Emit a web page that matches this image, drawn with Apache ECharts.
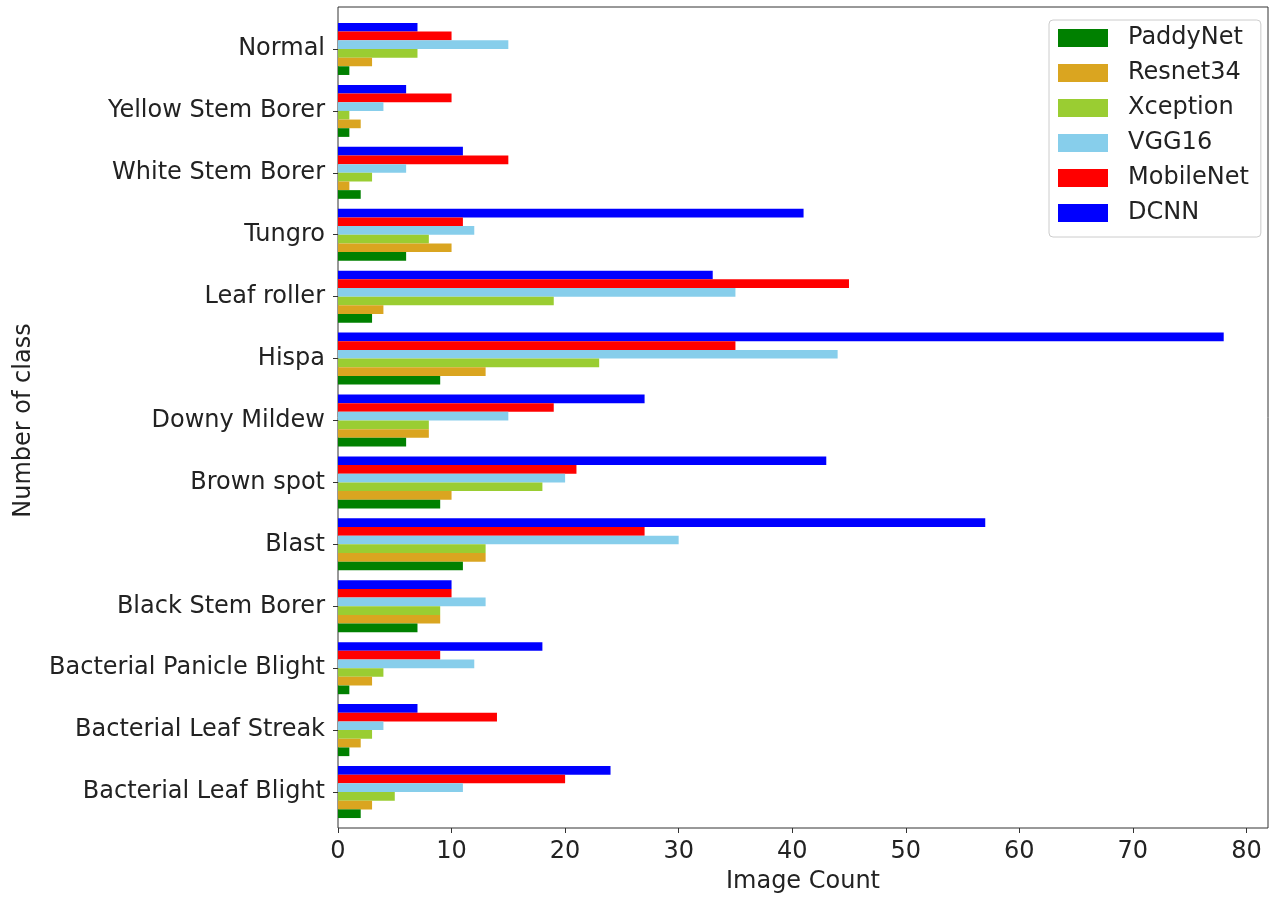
<!DOCTYPE html>
<html>
<head>
<meta charset="utf-8">
<script src="https://cdn.jsdelivr.net/npm/echarts@6/dist/echarts.min.js"></script>
<style>
  html, body { margin: 0; padding: 0; background: #fff; }
  #box1 { width: 1272px; height: 899px; }
</style>
</head>
<body>
<div id="box1"></div>
<script>
var chart = echarts.init(document.getElementById('box1'));

// categories, bottom to top
var classes = ['Bacterial Leaf Blight', 'Bacterial Leaf Streak', 'Bacterial Panicle Blight', 'Black Stem Borer',
  'Blast', 'Brown spot', 'Downy Mildew', 'Hispa', 'Leaf roller', 'Tungro',
  'White Stem Borer', 'Yellow Stem Borer', 'Normal'];

var models = ['PaddyNet', 'Resnet34', 'Xception', 'VGG16', 'MobileNet', 'DCNN'];
var colors = ['#008000', '#DAA520', '#9ACD32', '#87CEEB', '#FF0000', '#0000FF'];

var paddyNet  = [2, 1, 1, 7, 11, 9, 6, 9, 3, 6, 2, 1, 1];
var resnet34  = [3, 2, 3, 9, 13, 10, 8, 13, 4, 10, 1, 2, 3];
var xception  = [5, 3, 4, 9, 13, 18, 8, 23, 19, 8, 3, 1, 7];
var vgg16     = [11, 4, 12, 13, 30, 20, 15, 44, 35, 12, 6, 4, 15];
var mobileNet = [20, 14, 9, 10, 27, 21, 19, 35, 45, 11, 15, 10, 10];
var dcnn      = [24, 7, 18, 10, 57, 43, 27, 78, 33, 41, 11, 6, 7];

var xTicks = [0, 10, 20, 30, 40, 50, 60, 70, 80];

var allData = [paddyNet, resnet34, xception, vgg16, mobileNet, dcnn];
var font = 'DejaVu Sans';
var txt = '#222';

// echarts puts the first series on top in a horizontal bar group,
// so add them in reverse to keep PaddyNet at the bottom
var series = [];
for (var i = models.length - 1; i >= 0; i--) {
  series.push({
    name: models[i],
    type: 'bar',
    xAxisIndex: 0,
    yAxisIndex: 0,
    data: allData[i],
    barGap: '0%',
    barCategoryGap: '16%',
    itemStyle: { color: colors[i] }
  });
}

var option = {
  animation: false,
  textStyle: { fontFamily: font },
  legend: {
    data: models,
    orient: 'vertical',
    left: 1049,
    top: 20,
    icon: 'rect',
    itemWidth: 50,
    itemHeight: 18,
    itemGap: 11,
    padding: [6, 12, 12, 9],
    backgroundColor: '#fff',
    borderColor: '#cccccc',
    borderWidth: 1,
    borderRadius: 4,
    textStyle: { fontFamily: font, fontSize: 24, color: txt, lineHeight: 24, padding: [0, 0, 0, 15] }
  },
  grid: [
    { left: 338, right: 4, top: 18, bottom: 76, show: false },
    { left: 338, right: 4, top: 7, bottom: 63, show: true, borderColor: '#333', borderWidth: 1, backgroundColor: 'transparent' }
  ],
  xAxis: [
    { gridIndex: 0, type: 'value', min: 0, max: 81.9, show: false },
    {
      gridIndex: 1, type: 'value', min: 0, max: 81.9,
      name: 'Image Count', nameLocation: 'middle', nameGap: 42,
      nameTextStyle: { fontFamily: font, fontSize: 24, color: txt },
      axisLine: { show: false },
      axisTick: { show: true, length: 5, customValues: xTicks, lineStyle: { color: '#333' } },
      axisLabel: { fontFamily: font, fontSize: 24, color: txt, margin: 12, customValues: xTicks },
      splitLine: { show: false }
    }
  ],
  yAxis: [
    {
      gridIndex: 0, type: 'category', data: classes,
      name: 'Number of class', nameLocation: 'middle', nameGap: 302,
      nameTextStyle: { fontFamily: font, fontSize: 24, color: txt },
      axisLine: { show: false },
      axisTick: { show: true, alignWithLabel: true, length: 5, lineStyle: { color: '#333' } },
      axisLabel: { fontFamily: font, fontSize: 24, color: txt, margin: 13, padding: [6, 0, 0, 0] }
    },
    { gridIndex: 1, type: 'value', show: false }
  ],
  series: series
};

chart.setOption(option);
</script>
</body>
</html>
